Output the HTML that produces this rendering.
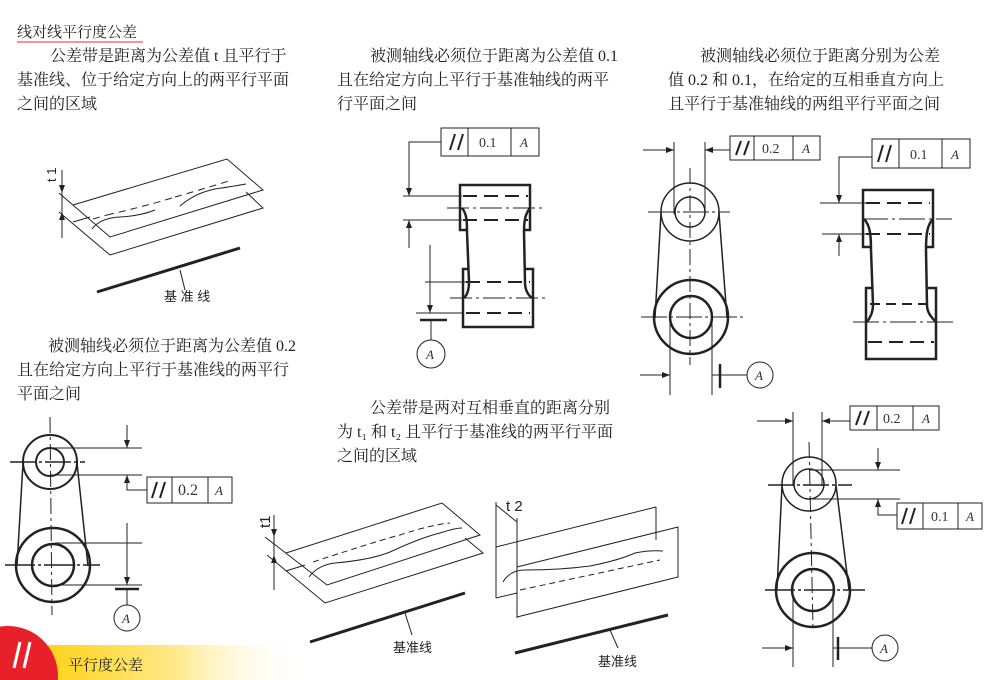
<!DOCTYPE html>
<html><head><meta charset="utf-8"><style>
html,body{margin:0;padding:0;background:#fff;overflow:hidden;width:997px;height:680px;}
svg{display:block;}
.t{font-family:"Liberation Serif","Noto Serif CJK SC",serif;font-size:16px;fill:#222;}
.s{font-family:"Liberation Sans","Noto Sans CJK SC",sans-serif;font-size:13px;fill:#222;}
.n{font-family:"Liberation Serif",serif;font-size:14px;fill:#333;}
.a{font-family:"Liberation Serif",serif;font-size:13px;font-style:italic;fill:#333;}
</style></head><body>
<svg width="997" height="680" viewBox="0 0 997 680" xmlns="http://www.w3.org/2000/svg">
<defs>
<marker id="ar" markerWidth="8" markerHeight="6" refX="8" refY="3" orient="auto" markerUnits="userSpaceOnUse"><path d="M0,0 L8,3 L0,6z" fill="#222"/></marker>
<linearGradient id="yg" x1="0" x2="1" y1="0" y2="0"><stop offset="0" stop-color="#ffd21a"/><stop offset="0.5" stop-color="#ffe98a"/><stop offset="1" stop-color="#fff" stop-opacity="0"/></linearGradient>
</defs>
<g stroke="#222" fill="none" stroke-width="1">
<rect x="48" y="645" width="255" height="35" fill="url(#yg)" stroke="none"/>
<circle cx="8" cy="676" r="50" fill="#e8202a" stroke="none"/>
<line x1="14" y1="668" x2="20" y2="642" stroke="#fff" stroke-width="3"/>
<line x1="24" y1="668" x2="30" y2="642" stroke="#fff" stroke-width="3"/>
<line x1="17" y1="42" x2="143" y2="42" stroke="#e8707a" stroke-width="1.5"/>

<!-- Fig1 -->
<line x1="62" y1="170" x2="62" y2="238"/>
<line x1="62" y1="170" x2="62" y2="193" marker-end="url(#ar)"/>
<line x1="62" y1="238" x2="62" y2="212" marker-end="url(#ar)"/>
<polyline points="59,193 110,237 263,190 227,159 73,205"/>
<polyline points="59,212 110,255 263,208 246,192"/>
<line x1="73" y1="222" x2="90" y2="217"/>
<path d="M93,219 L107,215" stroke-dasharray="7,5"/>
<path d="M107,215 Q150,205 175,197" stroke-dasharray="7,5"/>
<path d="M175,197 Q200,190 232,180" stroke-dasharray="7,5"/>
<path d="M92,229 Q100,218 120,217 Q140,216 155,210"/>
<path d="M180,206 Q195,193 215,189 Q235,186 246,184"/>
<line x1="97" y1="292" x2="240" y2="248" stroke-width="3"/>
<line x1="180" y1="270" x2="185" y2="290"/>

<!-- Fig2 -->
<rect x="441" y="128" width="98" height="28" fill="#fff"/>
<line x1="468" y1="128" x2="468" y2="156"/><line x1="511" y1="128" x2="511" y2="156"/>
<line x1="450" y1="150" x2="455" y2="134" stroke-width="2"/><line x1="458" y1="150" x2="463" y2="134" stroke-width="2"/>
<polyline points="441,142 409,142 409,196" marker-end="url(#ar)"/>
<line x1="409" y1="248" x2="409" y2="220" marker-end="url(#ar)"/>
<line x1="403" y1="196" x2="462" y2="196"/><line x1="403" y1="220" x2="462" y2="220"/>
<path d="M467,230 L460,230 L460,185 L530,185 L530,230 L524,230" stroke-width="2.5"/>
<path d="M469,269 L463,269 L463,327 L533,327 L533,269 L526,269" stroke-width="2.5"/>
<path d="M462,208 C467,214 467,222 467,232 L469,282 C469,290 467,295 464,298" stroke-width="2.5"/>
<path d="M530,208 C525,214 524,222 524,232 L525,282 C525,290 528,295 532,298" stroke-width="2.5"/>
<line x1="463" y1="196" x2="528" y2="196" stroke-width="2" stroke-dasharray="14,7"/>
<line x1="463" y1="220" x2="528" y2="220" stroke-width="2" stroke-dasharray="14,7"/>
<line x1="447" y1="208" x2="543" y2="208" stroke-dasharray="22,4,3,4"/>
<line x1="466" y1="282" x2="530" y2="282" stroke-width="2" stroke-dasharray="14,7"/>
<line x1="466" y1="313" x2="530" y2="313" stroke-width="2" stroke-dasharray="14,7"/>
<line x1="450" y1="298" x2="546" y2="298" stroke-dasharray="22,4,3,4"/>
<line x1="425" y1="282" x2="466" y2="282"/>
<line x1="430" y1="245" x2="430" y2="313" marker-end="url(#ar)"/>
<line x1="416" y1="313" x2="463" y2="313"/>
<line x1="420" y1="320" x2="447" y2="320" stroke-width="2.5"/>
<line x1="431" y1="320" x2="431" y2="340"/>
<circle cx="431" cy="354" r="14" fill="#fff"/>

<!-- Fig3 left -->
<rect x="730" y="136" width="90" height="24" fill="#fff"/>
<line x1="754" y1="136" x2="754" y2="160"/><line x1="793" y1="136" x2="793" y2="160"/>
<line x1="736" y1="155" x2="741" y2="141" stroke-width="2"/><line x1="744" y1="155" x2="749" y2="141" stroke-width="2"/>
<line x1="674" y1="142" x2="674" y2="214"/><line x1="705" y1="142" x2="705" y2="214"/>
<line x1="643" y1="150" x2="674" y2="150" marker-end="url(#ar)"/>
<line x1="730" y1="150" x2="705" y2="150" marker-end="url(#ar)"/>
<circle cx="690" cy="212" r="29" stroke-width="1.5"/>
<circle cx="690" cy="212" r="15" stroke-width="1.5"/>
<circle cx="691" cy="317" r="37" stroke-width="2.5"/>
<circle cx="691" cy="317" r="21" stroke-width="2.5"/>
<line x1="661" y1="213" x2="655" y2="318" stroke-width="1.5"/>
<line x1="719" y1="213" x2="727" y2="318" stroke-width="1.5"/>
<line x1="690" y1="168" x2="690" y2="365" stroke-dasharray="16,4,3,4"/>
<line x1="648" y1="212" x2="730" y2="212" stroke-dasharray="26,3,3,3"/>
<line x1="641" y1="317" x2="745" y2="317" stroke-dasharray="26,3,3,3"/>
<line x1="670" y1="320" x2="670" y2="395"/><line x1="712" y1="320" x2="712" y2="395"/>
<line x1="640" y1="375" x2="670" y2="375" marker-end="url(#ar)"/>
<line x1="712" y1="375" x2="748" y2="375"/>
<line x1="720" y1="364" x2="720" y2="388" stroke-width="2.5"/>
<circle cx="760" cy="375" r="13" fill="#fff"/>

<!-- Fig3 right -->
<rect x="872" y="139" width="98" height="29" fill="#fff"/>
<line x1="899" y1="139" x2="899" y2="168"/><line x1="942" y1="139" x2="942" y2="168"/>
<line x1="878" y1="162" x2="883" y2="145" stroke-width="2"/><line x1="886" y1="162" x2="891" y2="145" stroke-width="2"/>
<polyline points="872,157 839,157 839,203" marker-end="url(#ar)"/>
<line x1="839" y1="256" x2="839" y2="234" marker-end="url(#ar)"/>
<line x1="820" y1="203" x2="868" y2="203"/><line x1="822" y1="234" x2="868" y2="234"/>
<path d="M871,247 L863,247 L863,190 L933,190 L933,247 L926,247" stroke-width="2.5"/>
<path d="M873,288 L866,288 L866,359 L936,359 L936,288 L928,288" stroke-width="2.5"/>
<path d="M864,219 C870,225 871,235 871,250 L873,305 C873,313 870,318 867,322" stroke-width="2.5"/>
<path d="M933,219 C927,225 926,235 926,250 L927,305 C927,313 932,318 936,322" stroke-width="2.5"/>
<line x1="866" y1="203" x2="930" y2="203" stroke-width="2" stroke-dasharray="14,7"/>
<line x1="866" y1="234" x2="930" y2="234" stroke-width="2" stroke-dasharray="14,7"/>
<line x1="862" y1="219" x2="952" y2="219" stroke-dasharray="26,4,3,4"/>
<line x1="870" y1="304" x2="934" y2="304" stroke-width="2" stroke-dasharray="10,6"/>
<line x1="868" y1="342" x2="934" y2="342" stroke-width="2" stroke-dasharray="14,7"/>
<line x1="853" y1="322" x2="957" y2="322" stroke-dasharray="26,4,3,4"/>

<!-- Fig4 -->
<circle cx="50" cy="462" r="27" stroke-width="2"/>
<circle cx="50" cy="462" r="14" stroke-width="2"/>
<circle cx="53" cy="565" r="37" stroke-width="2.5"/>
<circle cx="53" cy="565" r="21" stroke-width="2.5"/>
<line x1="23" y1="463" x2="17" y2="566" stroke-width="1.5"/>
<line x1="77" y1="463" x2="88" y2="566" stroke-width="1.5"/>
<line x1="50" y1="417" x2="52" y2="615" stroke-dasharray="16,4,3,4"/>
<line x1="10" y1="462" x2="85" y2="462" stroke-dasharray="26,3,3,3" stroke-width="1.5"/>
<line x1="5" y1="565" x2="100" y2="565" stroke-dasharray="30,3,3,3" stroke-width="1.5"/>
<line x1="50" y1="448" x2="142" y2="448"/><line x1="50" y1="475" x2="142" y2="475"/>
<line x1="127" y1="425" x2="127" y2="448" marker-end="url(#ar)"/>
<polyline points="127,490 127,475" marker-end="url(#ar)"/>
<polyline points="127,475 127,490 147,490"/>
<rect x="147" y="477" width="85" height="26" fill="#fff"/>
<line x1="172" y1="477" x2="172" y2="503"/><line x1="208" y1="477" x2="208" y2="503"/>
<line x1="152" y1="498" x2="157" y2="482" stroke-width="2"/><line x1="160" y1="498" x2="165" y2="482" stroke-width="2"/>
<line x1="55" y1="543" x2="142" y2="543"/><line x1="55" y1="585" x2="142" y2="585"/>
<line x1="127" y1="523" x2="127" y2="585" marker-end="url(#ar)"/>
<line x1="115" y1="589" x2="139" y2="589" stroke-width="2.5"/>
<line x1="127" y1="589" x2="127" y2="605"/>
<circle cx="127" cy="618" r="13" fill="#fff"/>

<!-- Fig5 left -->
<line x1="274" y1="515" x2="274" y2="590"/>
<line x1="274" y1="525" x2="274" y2="537" marker-end="url(#ar)"/>
<line x1="274" y1="580" x2="274" y2="555" marker-end="url(#ar)"/>
<polyline points="265,537 327,585 480,535 442,503 286,553"/>
<polyline points="267,555 325,603 483,553 465,538"/>
<line x1="286" y1="571" x2="305" y2="565"/>
<path d="M313,562 Q380,540 400,535 Q430,525 450,523" stroke-dasharray="6,4"/>
<path d="M309,577 Q318,565 335,563 Q370,560 390,552 Q420,538 440,533 Q455,528 462,528"/>
<line x1="310" y1="642" x2="465" y2="593" stroke-width="3"/>
<line x1="405" y1="613" x2="412" y2="635"/>
<!-- Fig5 right -->
<line x1="496" y1="502" x2="496" y2="598"/>
<line x1="496" y1="505" x2="517" y2="522"/>
<line x1="496" y1="547" x2="656" y2="507"/>
<line x1="656" y1="507" x2="656" y2="540"/>
<line x1="496" y1="598" x2="517" y2="593"/>
<line x1="517" y1="518" x2="517" y2="618"/>
<polyline points="517,567 678,527 678,577 517,617"/>
<path d="M503,582 Q510,570 525,570 Q560,570 590,566 Q620,560 635,553 Q650,550 663,551"/>
<path d="M520,590 L660,560" stroke-dasharray="6,4"/>
<line x1="515" y1="653" x2="668" y2="615" stroke-width="3"/>
<line x1="610" y1="630" x2="618" y2="648"/>

<!-- Fig6 -->
<rect x="850" y="406" width="89" height="24" fill="#fff"/>
<line x1="877" y1="406" x2="877" y2="430"/><line x1="913" y1="406" x2="913" y2="430"/>
<line x1="856" y1="425" x2="861" y2="411" stroke-width="2"/><line x1="864" y1="425" x2="869" y2="411" stroke-width="2"/>
<line x1="793" y1="412" x2="793" y2="486"/><line x1="822" y1="412" x2="822" y2="486"/>
<line x1="757" y1="421" x2="793" y2="421" marker-end="url(#ar)"/>
<line x1="850" y1="421" x2="822" y2="421" marker-end="url(#ar)"/>
<circle cx="809" cy="484" r="27" stroke-width="1.5"/>
<circle cx="809" cy="484" r="15" stroke-width="1.5"/>
<circle cx="813" cy="590" r="37" stroke-width="2.5"/>
<circle cx="813" cy="590" r="21" stroke-width="2.5"/>
<line x1="782" y1="485" x2="777" y2="590" stroke-width="1.5"/>
<line x1="836" y1="485" x2="849" y2="590" stroke-width="1.5"/>
<line x1="809" y1="442" x2="813" y2="628" stroke-dasharray="16,4,3,4"/>
<line x1="768" y1="485" x2="852" y2="485" stroke-dasharray="26,3,3,3" stroke-width="1.5"/>
<line x1="765" y1="590" x2="865" y2="590" stroke-dasharray="30,3,3,3" stroke-width="1.5"/>
<line x1="809" y1="470" x2="900" y2="470"/><line x1="809" y1="499" x2="900" y2="499"/>
<line x1="878" y1="448" x2="878" y2="470" marker-end="url(#ar)"/>
<line x1="878" y1="515" x2="878" y2="499" marker-end="url(#ar)"/>
<polyline points="878,499 878,515 897,515"/>
<rect x="897" y="503" width="85" height="26" fill="#fff"/>
<line x1="923" y1="503" x2="923" y2="529"/><line x1="958" y1="503" x2="958" y2="529"/>
<line x1="902" y1="524" x2="907" y2="508" stroke-width="2"/><line x1="910" y1="524" x2="915" y2="508" stroke-width="2"/>
<line x1="793" y1="588" x2="793" y2="667"/><line x1="833" y1="588" x2="833" y2="667"/>
<line x1="762" y1="648" x2="793" y2="648" marker-end="url(#ar)"/>
<line x1="833" y1="648" x2="838" y2="648"/>
<line x1="838" y1="637" x2="838" y2="660" stroke-width="2.5"/>
<line x1="838" y1="648" x2="872" y2="648"/>
<circle cx="885" cy="648" r="13" fill="#fff"/>
</g>

<text class="n" x="479" y="147">0.1</text><text class="a" x="520" y="147">A</text>
<text class="n" x="762" y="153">0.2</text><text class="a" x="802" y="153">A</text>
<text class="n" x="910" y="159">0.1</text><text class="a" x="951" y="159">A</text>
<text class="n" x="178" y="495" style="font-size:16px">0.2</text><text class="a" x="215" y="495">A</text>
<text class="n" x="883" y="423">0.2</text><text class="a" x="922" y="423">A</text>
<text class="n" x="931" y="521">0.1</text><text class="a" x="966" y="521">A</text>
<text class="a" x="426" y="359">A</text>
<text class="a" x="755" y="380">A</text>
<text class="a" x="122" y="623">A</text>
<text class="a" x="880" y="653">A</text>

<text class="s" transform="translate(56,182) rotate(-90)">t 1</text>
<text class="s" transform="translate(270,528) rotate(-90)" style="font-size:15px">t1</text>
<text class="s" x="506" y="511" style="font-size:15px">t 2</text>
<text class="s" x="164" y="301">基 准 线</text>
<text class="s" x="393" y="652">基准线</text>
<text class="s" x="598" y="666">基准线</text>

<text class="t" x="17" y="37" style="font-size:15px">线对线平行度公差</text>
<text class="t" x="50" y="61">公差带是距离为公差值 t 且平行于</text>
<text class="t" x="17" y="85">基准线、位于给定方向上的两平行平面</text>
<text class="t" x="17" y="109">之间的区域</text>
<text class="t" x="370" y="61">被测轴线必须位于距离为公差值 0.1</text>
<text class="t" x="337" y="85">且在给定方向上平行于基准轴线的两平</text>
<text class="t" x="337" y="109">行平面之间</text>
<text class="t" x="700" y="61">被测轴线必须位于距离分别为公差</text>
<text class="t" x="668" y="85">值 0.2 和 0.1，在给定的互相垂直方向上</text>
<text class="t" x="668" y="109">且平行于基准轴线的两组平行平面之间</text>
<text class="t" x="48" y="351">被测轴线必须位于距离为公差值 0.2</text>
<text class="t" x="17" y="375">且在给定方向上平行于基准线的两平行</text>
<text class="t" x="17" y="399">平面之间</text>
<text class="t" x="370" y="413">公差带是两对互相垂直的距离分别</text>
<text class="t" x="337" y="437">为 t₁ 和 t₂ 且平行于基准线的两平行平面</text>
<text class="t" x="337" y="461">之间的区域</text>
<text class="t" x="68" y="670" style="font-size:15px">平行度公差</text>
</svg>
</body></html>
